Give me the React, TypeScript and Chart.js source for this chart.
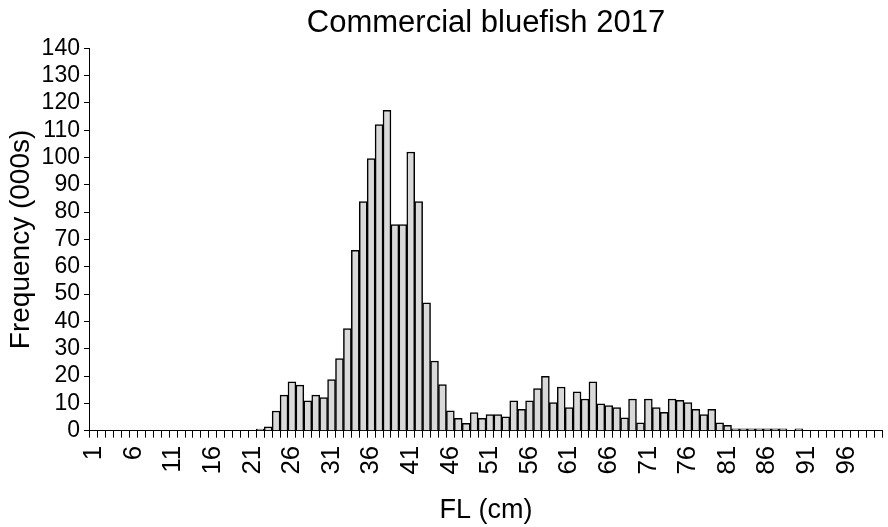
import React, { useEffect, useRef } from "react";
import { Chart, registerables } from "chart.js";

Chart.register(...registerables);

const TITLE = "Commercial bluefish 2017";
const X_TITLE = "FL (cm)";
const Y_TITLE = "Frequency (000s)";

const lengths = [
  1, 2, 3, 4, 5, 6, 7, 8, 9, 10,
  11, 12, 13, 14, 15, 16, 17, 18, 19, 20,
  21, 22, 23, 24, 25, 26, 27, 28, 29, 30,
  31, 32, 33, 34, 35, 36, 37, 38, 39, 40,
  41, 42, 43, 44, 45, 46, 47, 48, 49, 50,
  51, 52, 53, 54, 55, 56, 57, 58, 59, 60,
  61, 62, 63, 64, 65, 66, 67, 68, 69, 70,
  71, 72, 73, 74, 75, 76, 77, 78, 79, 80,
  81, 82, 83, 84, 85, 86, 87, 88, 89, 90,
  91, 92, 93, 94, 95, 96, 97, 98, 99, 100,
];

const frequency = [
  0, 0, 0, 0, 0, 0, 0, 0, 0, 0,
  0, 0, 0, 0, 0, 0, 0, 0, 0, 0,
  0, 0.6, 1.4, 7.2, 13, 17.9, 16.7, 10.9, 13, 12.1,
  18.7, 26.4, 37.4, 66, 83.9, 99.6, 112, 117.3, 75.4, 75.4,
  102, 83.9, 46.8, 25.5, 16.9, 7.3, 4.5, 2.7, 6.6, 4.5,
  5.9, 5.9, 5.1, 10.9, 7.8, 10.9, 15.4, 19.9, 10.3, 16,
  8.5, 14.2, 11.6, 17.9, 9.8, 9.2, 8.5, 4.7, 11.6, 2.9,
  11.6, 8.5, 6.7, 11.6, 11.1, 10.3, 7.8, 5.9, 7.8, 2.9,
  2.0, 0.7, 0.7, 0.7, 0.7, 0.7, 0.7, 0.7, 0, 0.7,
  0, 0, 0, 0, 0, 0, 0, 0, 0, 0,
];

const Y_MIN = 0;
const Y_MAX = 140;
const Y_STEP = 10;
const X_LABEL_EVERY = 5;

const FONT = "'Liberation Sans', Arial, sans-serif";

export default function App() {
  const ref = useRef<HTMLCanvasElement | null>(null);

  useEffect(() => {
    document.body.style.margin = "0";
    const canvas = ref.current;
    if (!canvas) return;
    const chart = new Chart(canvas, {
      type: "bar",
      data: {
        labels: lengths.map(String),
        datasets: [
          {
            data: frequency,
            backgroundColor: "#d9d9d9",
            borderColor: "#000000",
            borderWidth: 1.5,
            barPercentage: 1,
            categoryPercentage: 1,
          },
        ],
      },
      options: {
        responsive: false,
        animation: false,
        layout: { padding: { left: 4, right: 6, top: 0, bottom: 0 } },
        plugins: {
          legend: { display: false },
          tooltip: { enabled: false },
          title: {
            display: true,
            text: TITLE,
            color: "#000",
            font: { family: FONT, size: 31, weight: "normal" },
            padding: { top: 5, bottom: 6 },
            fullSize: false,
          },
        },
        scales: {
          x: {
            offset: true,
            grid: {
              offset: true,
              drawOnChartArea: false,
              drawTicks: true,
              tickLength: 7,
              color: "#000",
              tickColor: "#000",
              lineWidth: 1,
            },
            border: { display: true, color: "#000", width: 1 },
            ticks: {
              autoSkip: false,
              maxRotation: 90,
              minRotation: 90,
              padding: 8,
              color: "#000",
              font: (ctx: any) => ({
                family: FONT,
                size: ctx.index % X_LABEL_EVERY === 0 ? 26 : 1,
              }),
              callback: (_v: any, i: number) =>
                i % X_LABEL_EVERY === 0 ? String(lengths[i]) : "",
            },
            title: {
              display: true,
              text: X_TITLE,
              color: "#000",
              font: { family: FONT, size: 27 },
              padding: { top: 12, bottom: 0 },
            },
          },
          y: {
            min: Y_MIN,
            max: Y_MAX,
            grid: {
              drawOnChartArea: false,
              drawTicks: true,
              tickLength: 6,
              color: "#000",
              tickColor: "#000",
            },
            border: { display: true, color: "#000", width: 1 },
            ticks: {
              autoSkip: false,
              stepSize: Y_STEP,
              padding: 4,
              color: "#000",
              font: { family: FONT, size: 23 },
            },
            title: {
              display: true,
              text: Y_TITLE,
              color: "#000",
              font: { family: FONT, size: 28 },
              padding: { top: 0, bottom: 0 },
            },
          },
        },
      },
    });
    return () => chart.destroy();
  }, []);

  return (
    <canvas
      ref={ref}
      width={888}
      height={527}
      style={{ display: "block", width: 888, height: 527 }}
    />
  );
}
